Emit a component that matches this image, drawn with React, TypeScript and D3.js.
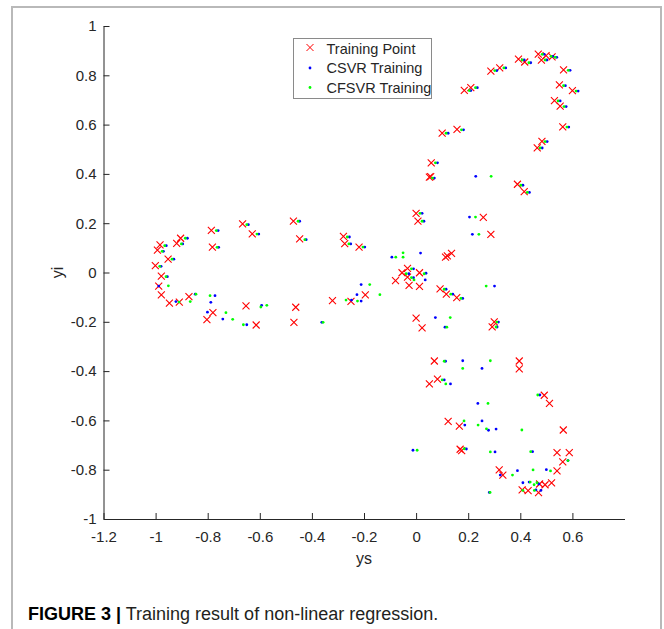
import React, { useEffect, useRef } from "react";
import * as d3 from "d3";

// Training points (red crosses)
const trainXs = [
  -0.983, -0.993, -0.904, -0.919, -0.952, -1.001, -0.978, -0.988, -0.978, -0.947,
  -0.909, -0.872, -0.786, -0.782, -0.666, -0.629, -0.471, -0.447, -0.279, -0.274,
  -0.219, -0.78, -0.803, -0.653, -0.614, -0.462, -0.469, -0.321, -0.25, -0.195,
  0.0, 0.007, 0.258, 0.287, 0.113, 0.12, 0.136, -0.033, -0.054, 0.013,
  -0.033, -0.079, -0.027, 0.013, 0.092, 0.116, 0.156, 0.0, 0.023, 0.3,
  0.292, 0.469, 0.499, 0.522, 0.393, 0.417, 0.481, 0.566, 0.287, 0.321,
  0.55, 0.6, 0.531, 0.553, 0.563, 0.185, 0.21, 0.483, 0.465, 0.1,
  0.157, 0.058, 0.051, 0.056, 0.389, 0.415, 0.07, 0.396, 0.396, 0.082,
  0.051, 0.492, 0.512, 0.123, 0.166, 0.565, 0.169, 0.175, 0.541, 0.588,
  0.563, 0.319, 0.333, 0.541, 0.52, 0.495, 0.474, 0.407, 0.43, 0.47,
];
const trainYi = [
  0.112, 0.091, 0.139, 0.118, 0.054, 0.028, -0.015, -0.055, -0.091, -0.124,
  -0.12, -0.098, 0.171, 0.103, 0.197, 0.157, 0.208, 0.136, 0.147, 0.117,
  0.103, -0.163, -0.191, -0.135, -0.213, -0.141, -0.202, -0.114, -0.117, -0.091,
  0.24, 0.208, 0.224, 0.155, 0.062, 0.067, 0.078, 0.017, -0.001, -0.001,
  -0.019, -0.033, -0.052, -0.056, -0.066, -0.088, -0.102, -0.185, -0.225, -0.2,
  -0.221, 0.886, 0.88, 0.875, 0.866, 0.854, 0.862, 0.822, 0.817, 0.83,
  0.761, 0.738, 0.697, 0.675, 0.591, 0.739, 0.75, 0.532, 0.506, 0.565,
  0.581, 0.445, 0.387, 0.389, 0.358, 0.328, -0.359, -0.359, -0.391, -0.433,
  -0.452, -0.498, -0.531, -0.604, -0.623, -0.639, -0.717, -0.723, -0.731, -0.731,
  -0.768, -0.801, -0.822, -0.805, -0.853, -0.861, -0.858, -0.882, -0.885, -0.893,
];

// CSVR training output (blue dots)
const csvrXs = [
  -0.959, -0.97, -0.878, -0.896, -0.93, -0.979, -0.955, -0.988, -0.922, -0.848,
  -0.772, -0.788, -0.801, -0.742, -0.65, -0.593, -0.76, -0.758, -0.644, -0.604,
  -0.447, -0.422, -0.256, -0.251, -0.197, -0.362, -0.211, -0.227, -0.211, -0.248,
  0.023, 0.03, 0.205, 0.216, 0.017, -0.093, -0.01, -0.028, 0.038, -0.01,
  0.035, 0.115, 0.141, 0.179, 0.301, 0.074, 0.111, 0.316, 0.311,
  0.492, 0.525, 0.54, 0.415, 0.44, 0.502, 0.591, 0.31, 0.344, 0.573,
  0.622, 0.553, 0.576, 0.586, 0.21, 0.235, 0.503, 0.484, 0.123, 0.182,
  0.082, 0.07, 0.229, 0.41, 0.435,
  0.113, 0.179, 0.253, 0.108, 0.132, 0.475, 0.237, 0.253, 0.187, 0.307,
  0.278, -0.012, 0.193, 0.303, 0.447, 0.583, 0.389, 0.323, 0.5, 0.41,
  0.434, 0.471, 0.46, 0.479, 0.281,
];
const csvrYi = [
  0.109, 0.086, 0.139, 0.116, 0.054, 0.025, -0.017, -0.055, -0.118, -0.088,
  -0.094, -0.121, -0.161, -0.189, -0.212, -0.133, 0.17, 0.102, 0.194, 0.156,
  0.208, 0.133, 0.144, 0.116, 0.103, -0.202, -0.049, -0.09, -0.116, -0.112,
  0.24, 0.208, 0.225, 0.155, 0.079, 0.062, 0.015, -0.005, -0.003, -0.021,
  -0.03, -0.068, -0.088, -0.105, -0.055, -0.183, -0.222, -0.201, -0.221,
  0.885, 0.877, 0.873, 0.862, 0.851, 0.862, 0.82, 0.819, 0.83, 0.758,
  0.736, 0.696, 0.673, 0.59, 0.738, 0.75, 0.531, 0.505, 0.565, 0.579,
  0.445, 0.383, 0.39, 0.354, 0.325,
  -0.36, -0.358, -0.389, -0.436, -0.452, -0.497, -0.531, -0.602, -0.619, -0.635,
  -0.64, -0.721, -0.716, -0.728, -0.727, -0.763, -0.804, -0.822, -0.8, -0.853,
  -0.85, -0.858, -0.882, -0.884, -0.892,
];

// CFSVR training output (green dots)
const cfsvrXs = [
  -0.965, -0.975, -0.886, -0.901, -0.937, -0.984, -0.96, -0.951, -0.91, -0.867,
  -0.845, -0.791, -0.73, -0.704, -0.663, -0.573, -0.596, -0.767, -0.764, -0.65,
  -0.611, -0.453, -0.427, -0.264, -0.258, -0.204, -0.357, -0.178, -0.225, -0.269,
  -0.139,
  0.015, 0.023, 0.228, 0.241, -0.05, -0.078, -0.05, -0.018, -0.038, 0.031,
  -0.018, -0.008, 0.108, 0.133, 0.172, 0.269, 0.131, 0.118, 0.31, 0.307,
  0.484, 0.518, 0.534, 0.407, 0.433, 0.495, 0.584, 0.302, 0.337, 0.566,
  0.614, 0.545, 0.568, 0.579, 0.204, 0.228, 0.495, 0.476, 0.115, 0.174,
  0.074, 0.063, 0.288, 0.402, 0.427,
  0.108, 0.285, 0.179, 0.1, 0.114, 0.467, 0.276, 0.184, 0.238, 0.27,
  0.406, 0.004, 0.185, 0.285, 0.44, 0.583, 0.449, 0.516, 0.37, 0.438,
  0.453, 0.464, 0.41, 0.454, 0.284,
];
const cfsvrYi = [
  0.109, 0.086, 0.139, 0.116, 0.054, 0.025, -0.017, -0.054, -0.12, -0.118,
  -0.088, -0.094, -0.163, -0.19, -0.212, -0.133, -0.14, 0.17, 0.102, 0.194,
  0.156, 0.208, 0.133, 0.144, 0.116, 0.103, -0.202, -0.049, -0.116, -0.112,
  -0.09,
  0.24, 0.208, 0.225, 0.155, 0.08, 0.062, 0.062, 0.015, -0.005, -0.005,
  -0.021, -0.03, -0.068, -0.088, -0.105, -0.055, -0.183, -0.222, -0.201, -0.221,
  0.885, 0.877, 0.873, 0.862, 0.851, 0.862, 0.82, 0.819, 0.83, 0.758,
  0.736, 0.696, 0.673, 0.59, 0.738, 0.75, 0.531, 0.505, 0.565, 0.579,
  0.445, 0.383, 0.39, 0.354, 0.325,
  -0.36, -0.358, -0.389, -0.436, -0.452, -0.497, -0.531, -0.602, -0.619, -0.634,
  -0.639, -0.721, -0.715, -0.728, -0.727, -0.763, -0.801, -0.805, -0.822, -0.85,
  -0.861, -0.853, -0.884, -0.884, -0.892,
];

const xTicks = [-1.2, -1, -0.8, -0.6, -0.4, -0.2, 0, 0.2, 0.4, 0.6];
const yTicks = [-1, -0.8, -0.6, -0.4, -0.2, 0, 0.2, 0.4, 0.6, 0.8, 1];
const legendLabels = ["Training Point", "CSVR Training", "CFSVR Training"];

const App = () => {
  const svgRef = useRef<SVGSVGElement>(null);

  useEffect(() => {
    const svg = d3.select(svgRef.current);
    svg.selectAll("*").remove();

    const font = "Arial, 'Liberation Sans', Helvetica, sans-serif";
    const ink = "#262626";

    const x = d3.scaleLinear().domain([-1.2, 0.8]).range([103.5, 624.5]);
    const y = d3.scaleLinear().domain([-1, 1]).range([519, 26]);

    svg.append("rect")
      .attr("width", 664).attr("height", 629)
      .attr("fill", "#ffffff");

    // figure frame
    svg.append("rect")
      .attr("x", 12).attr("y", 7)
      .attr("width", 649).attr("height", 650)
      .attr("fill", "none")
      .attr("stroke", "#b9b9b9")
      .attr("stroke-width", 2);

    const fmt = (d: any) => String(+(+d).toFixed(1));

    const gx = svg.append("g")
      .attr("transform", `translate(0,${y(-1)})`)
      .call(d3.axisBottom(x).tickValues(xTicks).tickFormat(fmt)
        .tickSizeInner(-6).tickSizeOuter(0).tickPadding(12));
    const gy = svg.append("g")
      .attr("transform", `translate(${x(-1.2)},0)`)
      .call(d3.axisLeft(y).tickValues(yTicks).tickFormat(fmt)
        .tickSizeInner(-6).tickSizeOuter(0).tickPadding(7));

    [gx, gy].forEach(g => {
      g.attr("font-family", font).attr("font-size", 15);
      g.select(".domain").attr("stroke", ink);
      g.selectAll(".tick line").attr("stroke", ink);
      g.selectAll(".tick text").attr("fill", ink);
    });

    // axis titles
    svg.append("text")
      .attr("x", (x(-1.2) + x(0.8)) / 2).attr("y", 564)
      .attr("text-anchor", "middle")
      .attr("font-family", font).attr("font-size", 16)
      .attr("fill", ink)
      .text("ys");
    svg.append("text")
      .attr("transform", `translate(63,${y(0)}) rotate(-90)`)
      .attr("text-anchor", "middle")
      .attr("font-family", font).attr("font-size", 16)
      .attr("fill", ink)
      .text("yi");

    const cross = (r: number) => `M${-r},${-r}L${r},${r}M${-r},${r}L${r},${-r}`;

    // training points
    svg.append("g")
      .selectAll("path")
      .data(d3.range(trainXs.length))
      .join("path")
      .attr("transform", i => `translate(${x(trainXs[i])},${y(trainYi[i])})`)
      .attr("d", cross(3.5))
      .attr("fill", "none")
      .attr("stroke", "#ff0000")
      .attr("stroke-width", 1.1);

    // CSVR
    svg.append("g")
      .selectAll("circle")
      .data(d3.range(csvrXs.length))
      .join("circle")
      .attr("cx", i => x(csvrXs[i]))
      .attr("cy", i => y(csvrYi[i]))
      .attr("r", 1.4)
      .attr("fill", "#0000ff");

    // CFSVR
    svg.append("g")
      .selectAll("circle")
      .data(d3.range(cfsvrXs.length))
      .join("circle")
      .attr("cx", i => x(cfsvrXs[i]))
      .attr("cy", i => y(cfsvrYi[i]))
      .attr("r", 1.4)
      .attr("fill", "#00ff00");

    // legend
    const lg = svg.append("g").attr("transform", "translate(293.5,38.5)");
    lg.append("rect")
      .attr("width", 138).attr("height", 60)
      .attr("fill", "#ffffff")
      .attr("stroke", "#8a8a8a")
      .attr("stroke-width", 1);
    legendLabels.forEach((label, i) => {
      const cy = 10 + i * 19.5;
      if (i === 0) {
        lg.append("path")
          .attr("transform", `translate(16.5,${cy - 1})`)
          .attr("d", cross(3.5))
          .attr("stroke", "#ff0000").attr("fill", "none");
      } else {
        lg.append("circle")
          .attr("cx", 16.5).attr("cy", cy)
          .attr("r", 1.4)
          .attr("fill", i === 1 ? "#0000ff" : "#00ff00");
      }
      lg.append("text")
        .attr("x", 33).attr("y", cy)
        .attr("dy", "0.36em")
        .attr("font-family", font).attr("font-size", 14.5)
        .attr("fill", ink)
        .text(label);
    });

    // caption
    const cap = svg.append("text")
      .attr("x", 28).attr("y", 620)
      .attr("font-family", font).attr("font-size", 18)
      .attr("fill", "#231f20");
    cap.append("tspan").attr("font-weight", "bold").attr("fill", "#000").text("FIGURE 3 |");
    cap.append("tspan").text(" Training result of non-linear regression.");
  }, []);

  return (
    <svg
      ref={svgRef}
      width={664}
      height={629}
      style={{ position: "absolute", left: 0, top: 0, display: "block" }}
    />
  );
};

export default App;
